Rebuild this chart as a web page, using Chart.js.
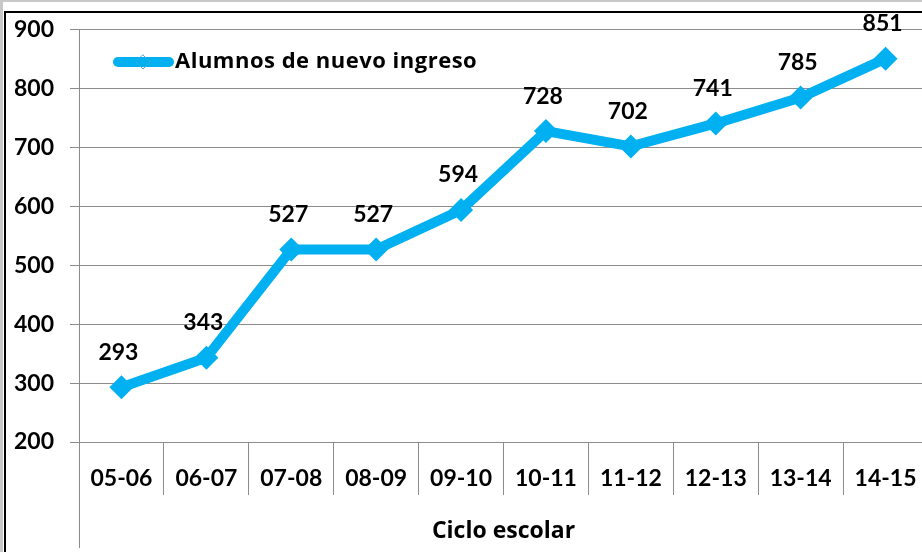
<!DOCTYPE html>
<html>
<head>
<meta charset="utf-8">
<script src="https://cdn.jsdelivr.net/npm/chart.js@4/dist/chart.umd.min.js"></script>
<style>
  html, body { margin: 0; padding: 0; background: #fff; overflow: hidden; }
  #wrap { position: relative; width: 922px; height: 552px; overflow: hidden; }
  canvas { display: block; }
</style>
</head>
<body>
<div id="wrap"><canvas id="chart" width="940" height="552"></canvas></div>
<script>
// chart data
const cycles = ['05-06', '06-07', '07-08', '08-09', '09-10', '10-11', '11-12', '12-13', '13-14', '14-15'];
const newStudents = [293, 343, 527, 527, 594, 728, 702, 741, 785, 851];
const seriesName = 'Alumnos de nuevo ingreso';
const axisTitle = 'Ciclo escolar';

const BLUE = '#00B0F0';
const GRID = '#8c8c8c';
const NUM_FONT = 'Lato, "Open Sans", sans-serif';
const WORD_FONT = '"Open Sans", Lato, sans-serif';

// frame, value labels, inner legend and axis extension
const extras = {
    id: 'extras',
    afterDatasetsDraw(chart) {
        const ctx = chart.ctx;
        const meta = chart.getDatasetMeta(0);

        // value labels above each point
        ctx.save();
        ctx.font = 'bold 23px ' + NUM_FONT;
        ctx.fillStyle = '#000';
        ctx.textAlign = 'center';
        ctx.textBaseline = 'middle';
        meta.data.forEach((pt, i) => {
            ctx.fillText(String(newStudents[i]), pt.x - 3, pt.y - 35);
        });
        ctx.restore();

        // legend inside plot
        ctx.save();
        ctx.strokeStyle = BLUE;
        ctx.lineWidth = 10;
        ctx.lineCap = 'round';
        ctx.beginPath();
        ctx.moveTo(118, 62);
        ctx.lineTo(169, 62);
        ctx.stroke();
        ctx.lineWidth = 1;
        ctx.strokeStyle = '#4aa3d8';
        ctx.beginPath();
        ctx.moveTo(143, 55); ctx.lineTo(150, 62); ctx.lineTo(143, 69); ctx.lineTo(136, 62); ctx.closePath();
        ctx.stroke();
        ctx.font = 'bold 22px ' + WORD_FONT;
        ctx.letterSpacing = '0.5px';
        ctx.fillStyle = '#000';
        ctx.textAlign = 'left';
        ctx.textBaseline = 'middle';
        ctx.fillText(seriesName, 175, 62);
        ctx.restore();
    },
    afterDraw(chart) {
        const ctx = chart.ctx;
        const area = chart.chartArea;
        ctx.save();
        // vertical axis continues down past the category labels
        ctx.strokeStyle = GRID;
        ctx.lineWidth = 1;
        ctx.beginPath();
        ctx.moveTo(Math.round(area.left) + 0.5, area.bottom);
        ctx.lineTo(Math.round(area.left) + 0.5, 548);
        ctx.stroke();
        // outer frame
        ctx.fillStyle = '#c8c8c8';
        ctx.fillRect(0, 0, 940, 2);
        ctx.fillRect(0, 0, 3, 552);
        ctx.fillStyle = '#000';
        ctx.fillRect(4, 11, 936, 2);
        ctx.fillRect(4, 11, 2, 541);
        ctx.restore();
    }
};

const ctx = document.getElementById('chart').getContext('2d');
new Chart(ctx, {
    type: 'line',
    data: {
        labels: cycles,
        datasets: [{
            label: seriesName,
            data: newStudents,
            borderColor: BLUE,
            backgroundColor: BLUE,
            borderWidth: 10,
            pointStyle: 'rectRot',
            pointRadius: 12,
            pointBorderWidth: 0,
            pointBackgroundColor: BLUE,
            tension: 0
        }]
    },
    options: {
        responsive: false,
        animation: false,
        layout: { padding: { left: 12, top: 29, right: 1, bottom: 0 } },
        plugins: {
            legend: { display: false },
            tooltip: { enabled: false }
        },
        scales: {
            x: {
                offset: true,
                grid: {
                    offset: true,
                    drawOnChartArea: false,
                    drawTicks: true,
                    tickLength: 53,
                    color: GRID
                },
                border: { color: GRID },
                ticks: {
                    padding: -30,
                    color: '#000',
                    font: { family: NUM_FONT, size: 23, weight: 'bold' },
                    maxRotation: 0
                },
                title: {
                    display: true,
                    text: axisTitle,
                    color: '#000',
                    font: { family: WORD_FONT, size: 23, weight: 'bold' },
                    padding: { top: 0, bottom: 7 }
                },
                afterFit(scale) { scale.height = 110; }
            },
            y: {
                min: 200,
                max: 900,
                grid: { color: GRID, tickLength: 9 },
                border: { color: GRID },
                ticks: {
                    stepSize: 100,
                    padding: 16,
                    color: '#000',
                    font: { family: NUM_FONT, size: 23, weight: 'bold' }
                },
                afterFit(scale) { scale.width = 67; }
            }
        }
    },
    plugins: [extras]
});
</script>
</body>
</html>
